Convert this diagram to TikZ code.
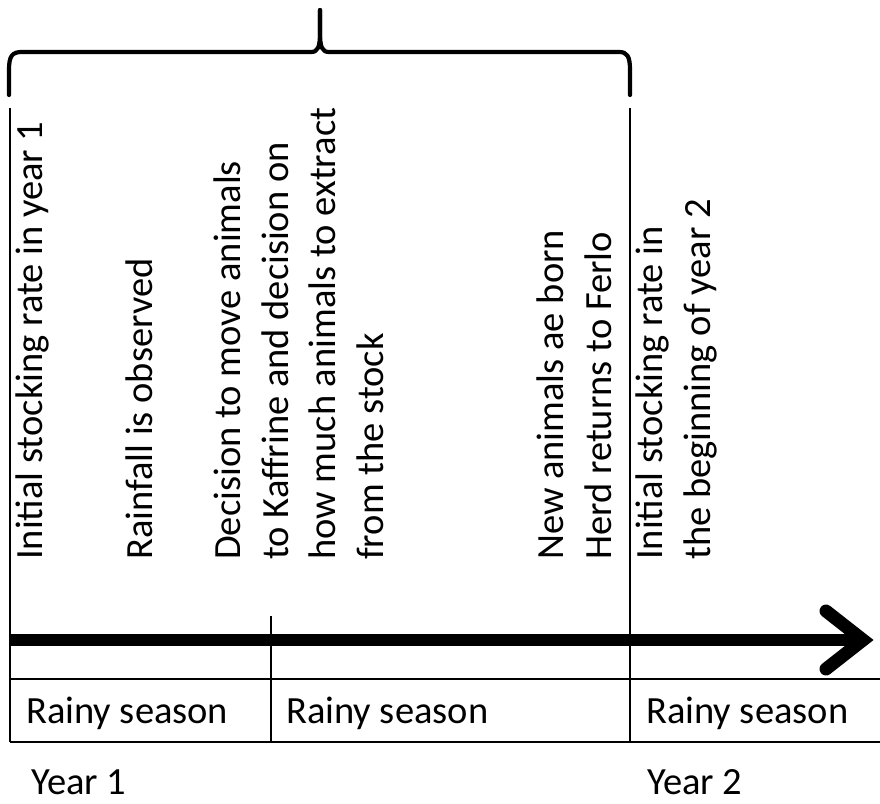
\documentclass[tikz,border=0pt]{standalone}
\usepackage{fontspec}
\setmainfont{Carlito}
\begin{document}
\begin{tikzpicture}[x=1pt,y=-1pt,
  thinline/.style={line width=1.6pt, black},
  shaft/.style={line width=12pt, black},
  chevron/.style={line width=13pt, black, line cap=round, line join=miter},
  bracepath/.style={line width=4.2pt, black, line cap=round, line join=round},
  lbl/.style={inner sep=0pt, font=\fontsize{38.5}{48}\selectfont},
  rot/.style={lbl, rotate=90, anchor=base west}]
\useasboundingbox (0,0) rectangle (880,803);

% coordinates
\coordinate (L0) at (10,108);
\coordinate (L1) at (10,742);
\coordinate (R0) at (630,108);
\coordinate (R1) at (630,742);
\coordinate (M0) at (271,616);
\coordinate (M1) at (271,742);
\coordinate (T0) at (10,679);
\coordinate (T1) at (880,679);
\coordinate (B0) at (10,742);
\coordinate (B1) at (880,742);
\coordinate (A0) at (9,640);
\coordinate (A1) at (862,640);
\coordinate (H1) at (826,611);
\coordinate (H2) at (863,640);
\coordinate (H3) at (826,669);

% brace
\draw[bracepath] (9,95) -- (9,70) .. controls (9,56) and (12,52) .. (22,52)
  -- (311,52) .. controls (318,52) and (320,47) .. (320,32) -- (320,10);
\draw[bracepath] (320,10) -- (320,32) .. controls (320,47) and (322,52) .. (329,52)
  -- (619,52) .. controls (627,52) and (630,56) .. (630,70) -- (630,95);

% lines
\draw[thinline] (L0) -- (L1);
\draw[thinline] (R0) -- (R1);
\draw[thinline] (M0) -- (M1);
\draw[thinline] (T0) -- (T1);
\draw[thinline] (B0) -- (B1);

% arrow
\draw[shaft] (A0) -- (A1);
\draw[chevron] (H1) -- (H2) -- (H3);

% rotated texts
\node[rot] (c1) at (42,560) {Initial stocking rate in year 1};
\node[rot] (c2) at (152,560) {Rainfall is observed};
\node[rot] (c3a) at (240,560) {Decision to move animals};
\node[rot] (c3b) at (288,560) {to Kaffrine and decision on};
\node[rot] (c3c) at (335,560) {how much animals to extract};
\node[rot] (c3d) at (383,560) {from the stock};
\node[rot] (c4a) at (563,560) {New animals ae born};
\node[rot] (c4b) at (611,560) {Herd returns to Ferlo};
\node[rot] (c5a) at (662,560) {Initial stocking rate in};
\node[rot] (c5b) at (710,560) {the beginning of year 2};

% table texts
\node[lbl, anchor=base west] (s1) at (26,723) {Rainy season};
\node[lbl, anchor=base west] (s2) at (286,723) {Rainy season};
\node[lbl, anchor=base west] (s3) at (646,723) {Rainy season};

% years
\node[lbl, anchor=base west] (y1) at (31,794) {Year 1};
\node[lbl, anchor=base west] (y2) at (647,794) {Year 2};
\end{tikzpicture}
\end{document}
